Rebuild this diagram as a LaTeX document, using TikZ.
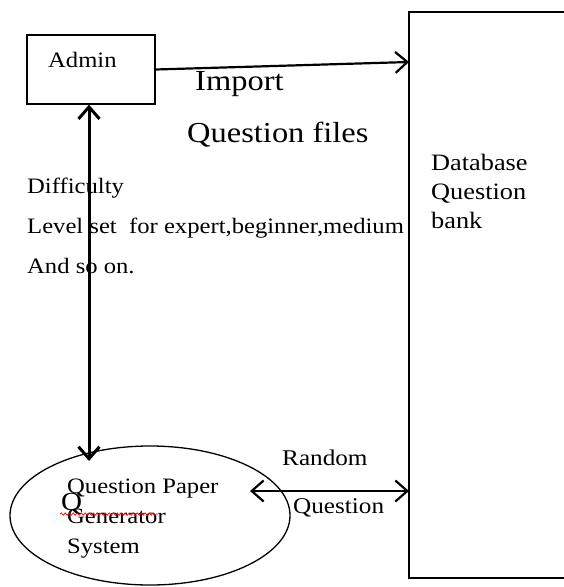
\documentclass[tikz,border=0pt]{standalone}
\usepackage{fontspec}
\setmainfont{Liberation Serif}[FakeStretch=1.12]
\usetikzlibrary{arrows.meta,shapes.geometric,decorations.pathmorphing}

\tikzset{>={Straight Barb[length=12pt,width=21pt]}}

\begin{document}
\begin{tikzpicture}[x=1pt,y=-1pt,
    box/.style={draw,line width=1.3pt,inner sep=0},
    lbl/.style={anchor=base west,inner sep=0,font=\fontsize{22.5}{29}\selectfont},
    big/.style={lbl,font=\fontsize{29}{34}\selectfont},
    flow/.style={line width=2.2pt}]
  \useasboundingbox (0,0) rectangle (564,587);
  \clip (0,0) rectangle (564,587);

  % boxes (multi-line labels sit on their last baseline)
  \node[box,minimum width=128pt,minimum height=69pt] (admin) at (91,69.5) {};
  \node[lbl,font=\fontsize{22}{27}\selectfont] (adminlbl) at (48,67) {Admin};
  \node[box,minimum width=200pt,minimum height=566pt] (db) at (509,295) {};
  \node[lbl,align=left,font=\fontsize{23.5}{29}\selectfont] (dblbl) at (431,228) {Database\\Question\\bank};
  \node[box,ellipse,minimum width=280pt,minimum height=139pt] (sys) at (150,515.5) {};
  \node[lbl,align=left,font=\fontsize{22}{30}\selectfont] (syslbl) at (67,553) {Question Paper\\Generator\\System};
  \node[lbl,font=\fontsize{26}{30}\selectfont] (strayq) at (61,510) {Q};
  \coordinate (wavy) at (60,514);
  \draw[red,line width=0.7pt,decorate,decoration={snake,amplitude=1.2pt,segment length=4pt}]
    (wavy) -- ++(98,0);

  % labels
  \node[big] (import) at (195,90) {Import};
  \node[big] (qfiles) at (187,142) {Question files};
  \node[lbl,align=left,font=\fontsize{22}{40}\selectfont] (level) at (27,273)
    {Difficulty\\Level set\ \ for expert,beginner,medium\\And so on.};
  \node[lbl] (random) at (282,465) {Random};
  \node[lbl] (question) at (293,513) {Question};

  % connectors
  \coordinate (importin) at (409,62);
  \coordinate (systop) at (89,461);
  \coordinate (sysin) at (250,491);
  \coordinate (dbin) at (409,491);
  \begin{scope}[flow]
    \draw[->] (admin.east) -- (importin);
    \draw[<->,line width=3pt] (systop |- admin.south) -- (systop);
    \draw[<->] (sysin) -- (dbin);
  \end{scope}
\end{tikzpicture}
\end{document}
